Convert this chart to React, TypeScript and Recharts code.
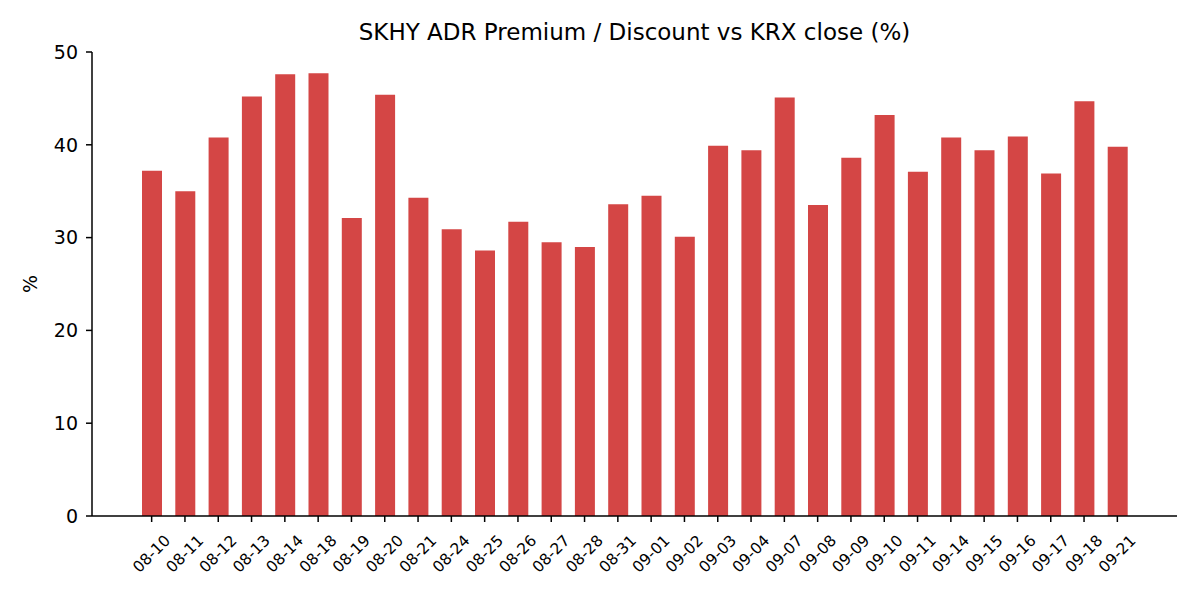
import React from "react";
import { BarChart, Bar, XAxis, YAxis } from "recharts";

const categories = [
  "08-10", "08-11", "08-12", "08-13", "08-14", "08-18", "08-19", "08-20", "08-21", "08-24",
  "08-25", "08-26", "08-27", "08-28", "08-31", "09-01", "09-02", "09-03", "09-04", "09-07",
  "09-08", "09-09", "09-10", "09-11", "09-14", "09-15", "09-16", "09-17", "09-18", "09-21",
];

const premium = [
  37.2, 35.0, 40.8, 45.2, 47.6, 47.7, 32.1, 45.4, 34.3, 30.9,
  28.6, 31.7, 29.5, 29.0, 33.6, 34.5, 30.1, 39.9, 39.4, 45.1,
  33.5, 38.6, 43.2, 37.1, 40.8, 39.4, 40.9, 36.9, 44.7, 39.8,
];

const yTicks = [0, 10, 20, 30, 40, 50];

const data = categories.map((c, i) => ({ date: c, value: premium[i] }));

const FONT = "'DejaVu Sans', sans-serif";

const XTick = (props: any) => {
  const { x, y, payload } = props;
  const cy = y + 30;
  return (
    <text
      x={x}
      y={cy}
      transform={`rotate(-45, ${x}, ${cy})`}
      textAnchor="middle"
      dominantBaseline="central"
      fontSize={15.5}
      fontFamily={FONT}
      fill="#000"
    >
      {payload.value}
    </text>
  );
};

export default function App() {
  return (
    <div style={{ position: "absolute", left: 0, top: 0, width: 1200, height: 600, background: "#fff" }}>
      <BarChart
        width={1200}
        height={600}
        data={data}
        margin={{ top: 52, right: 23, bottom: 4, left: 0 }}
      >
        <XAxis
          dataKey="date"
          height={80}
          padding={{ left: 43, right: 43 }}
          tick={<XTick />}
          tickSize={6}
          tickMargin={2}
          interval={0}
          axisLine={{ stroke: "#000", strokeWidth: 1.5 }}
          tickLine={{ stroke: "#000", strokeWidth: 1.5 }}
        />
        <YAxis
          width={92}
          domain={[0, 50]}
          ticks={yTicks}
          interval={0}
          tickSize={6}
          tickMargin={8}
          tick={{ fill: "#000", fontSize: 19, fontFamily: FONT }}
          axisLine={{ stroke: "#000", strokeWidth: 1.5 }}
          tickLine={{ stroke: "#000", strokeWidth: 1.5 }}
        />
        <Bar dataKey="value" fill="#d44645" barSize={20} isAnimationActive={false} />
      </BarChart>
      <svg
        width={1200}
        height={600}
        style={{ position: "absolute", left: 0, top: 0, pointerEvents: "none" }}
      >
        <text x={634.5} y={40} textAnchor="middle" fontSize={23} fontFamily={FONT} fill="#000">
          SKHY ADR Premium / Discount vs KRX close (%)
        </text>
        <text
          x={30}
          y={284}
          transform="rotate(-90, 30, 284)"
          textAnchor="middle"
          dominantBaseline="central"
          fontSize={19}
          fontFamily={FONT}
          fill="#000"
        >
          %
        </text>
      </svg>
    </div>
  );
}
